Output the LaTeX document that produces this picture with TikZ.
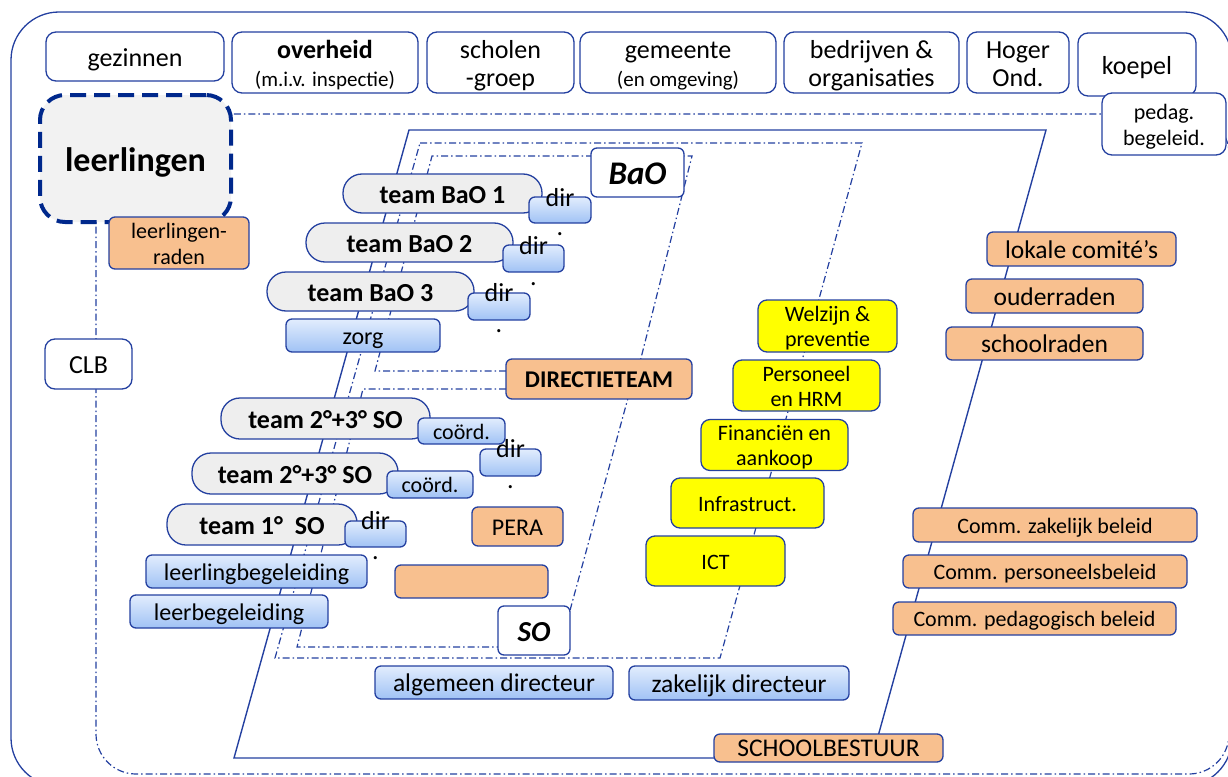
\documentclass[tikz,border=0pt]{standalone}
\usepackage{fontspec}
\setmainfont{Carlito}
\definecolor{bl}{RGB}{36,64,160}
\definecolor{dbl}{RGB}{0,40,140}
\definecolor{org}{RGB}{248,192,143}
\definecolor{gry}{RGB}{238,238,238}
\definecolor{lgry}{RGB}{242,242,242}
\definecolor{btop}{RGB}{226,237,253}
\definecolor{bbot}{RGB}{160,194,245}
\definecolor{ylw}{RGB}{255,255,0}
\newcommand\myup{\rule{0pt}{0.96em}}
\newcommand\mydn{\rule[-0.22em]{0pt}{0.22em}}
\newcommand\sbup{\rule{0pt}{0.84em}}
\newcommand\sbdn{\rule[-0.2em]{0pt}{0.2em}}
\tikzset{
 plainbase/.style={draw=bl, line width=1.3pt, rounded corners=6pt, inner sep=0pt, align=center, text=black},
 bxbase/.style={plainbase},
 wbox/.style={bxbase, fill=white, rounded corners=10pt, font=\fontsize{26}{28}\selectfont},
 obox/.style={bxbase, fill=org, font=\fontsize{24}{26}\selectfont},
 ybox/.style={bxbase, fill=ylw, rounded corners=9pt, font=\fontsize{22}{25}\selectfont},
 bbox/.style={bxbase, top color=btop, bottom color=bbot, font=\fontsize{24}{26}\selectfont},
 dirbox/.style={plainbase, top color=btop, bottom color=bbot},
 teambox/.style={bxbase, fill=gry, rounded corners=19pt, font=\bfseries\fontsize{26}{28}\selectfont},
 lblbox/.style={bxbase, fill=white, font=\bfseries\itshape\fontsize{33}{36}\selectfont},
 ddline/.style={draw=bl, line width=1.2pt, dash pattern=on 7pt off 3pt on 1.5pt off 3pt},
 sline/.style={draw=bl, line width=1.4pt},
 dirtxt/.style={anchor=base, inner sep=0pt, font=\fontsize{26}{28}\selectfont},
}
\begin{document}
\begin{tikzpicture}[x=1pt, y=-1pt]
\useasboundingbox (0,0) rectangle (1228,776);
\clip (0,0) rectangle (1228,776);
% frames
\draw[sline, line width=1.3pt, rounded corners=48pt] (11,12) rectangle (1232,786);
\draw[ddline, rounded corners=40pt] (96,114) rectangle (1229,774);
% parallelograms
\draw[sline] (409,130) -- (1046,130) -- (872,758) -- (234,758) -- cycle;
\draw[ddline] (420,143) -- (862,143) -- (720,658) -- (275,658) -- cycle;
\draw[ddline] (506,371) -- (375,371) -- (432,156) -- (692,156) -- (640,362);
\draw[ddline] (506,389) -- (363,389) -- (297,647) -- (560,647) -- (628,398);

% top row
\node[wbox, minimum width=178pt, minimum height=49pt] (gez) at (135,56.5) {\myup gezinnen\mydn};
\node[wbox, minimum width=186pt, minimum height=61pt] (ovh) at (325,62.5) {\myup\textbf{overheid}\\{\fontsize{21}{28}\selectfont (m.i.v. inspectie)\mydn}};
\node[wbox, minimum width=147pt, minimum height=61pt] (sch) at (500.5,62.5) {\myup scholen\\-groep\mydn};
\node[wbox, minimum width=196pt, minimum height=61pt] (gem) at (678,62.5) {\myup gemeente\\{\fontsize{21}{28}\selectfont (en omgeving)\mydn}};
\node[wbox, minimum width=175pt, minimum height=61pt] (bed) at (871.5,62.5) {\myup bedrijven \&\\organisaties\mydn};
\node[wbox, minimum width=102pt, minimum height=61pt] (hog) at (1018,62.5) {\myup Hoger\\Ond.\mydn};
\node[wbox, minimum width=118pt, minimum height=63pt] (koe) at (1137,64.5) {\myup koepel\mydn};
\node[wbox, minimum width=124pt, minimum height=62pt, font=\fontsize{22}{26}\selectfont] (ped) at (1164,124) {\myup pedag.\\begeleid.\mydn};

% leerlingen
\node[bxbase, draw=dbl, fill=lgry, line width=4pt, dash pattern=on 16pt off 8pt, rounded corners=25pt, minimum width=191pt, minimum height=127pt, font=\bfseries\fontsize{34}{36}\selectfont] (ll) at (135.5,158.5) {\myup leerlingen\mydn};
\node[obox, minimum width=140pt, minimum height=52pt, font=\fontsize{22}{26}\selectfont] (lr) at (179,243) {\myup leerlingen-\\raden\mydn};
\node[wbox, minimum width=87pt, minimum height=50pt] (clb) at (88.5,364) {\myup CLB\mydn};

% BaO teams
\node[lblbox, minimum width=93pt, minimum height=49pt] (bao) at (637.5,172.5) {\myup BaO\mydn};
\node[teambox, minimum width=199pt, minimum height=39pt] (t1) at (442.5,193.5) {\myup team BaO 1\mydn};
\node[dirbox, minimum width=62pt, minimum height=26pt] (d1) at (560,210) {};
\node[teambox, minimum width=207pt, minimum height=39pt] (t2) at (409.5,242.5) {\myup team BaO 2\mydn};
\node[dirbox, minimum width=61pt, minimum height=27pt] (d2) at (533.5,258.5) {};
\node[teambox, minimum width=207pt, minimum height=39pt] (t3) at (370.5,291.5) {\myup team BaO 3\mydn};
\node[dirbox, minimum width=62pt, minimum height=27pt] (d3) at (499,306.5) {};
\node[bbox, minimum width=154pt, minimum height=33pt] (zorg) at (363,335.5) {\myup zorg\mydn};
\node[dirtxt] (d1t) at (560,206) {dir};
\node[dirtxt] (d1p) at (560,235) {.};
\node[dirtxt] (d2t) at (533.5,254) {dir};
\node[dirtxt] (d2p) at (533.5,285) {.};
\node[dirtxt] (d3t) at (499,301) {dir};
\node[dirtxt] (d3p) at (499,332) {.};

\node[obox, minimum width=186pt, minimum height=40pt, font=\bfseries\fontsize{24}{26}\selectfont] (dt) at (599,379) {\myup DIRECTIETEAM\mydn};

% SO teams
\node[teambox, minimum width=209pt, minimum height=41pt] (s1) at (325.5,418.5) {\myup team 2°+3° SO\mydn};
\node[bbox, minimum width=87pt, minimum height=26pt, font=\fontsize{22}{24}\selectfont] (c1) at (461.5,431) {\myup coörd.\mydn};
\node[dirbox, minimum width=61pt, minimum height=27pt] (d4) at (510.5,462.5) {};
\node[teambox, minimum width=206pt, minimum height=41pt] (s2) at (295,473.5) {\myup team 2°+3° SO\mydn};
\node[bbox, minimum width=86pt, minimum height=27pt, font=\fontsize{22}{24}\selectfont] (c2) at (430,484.5) {\myup coörd.\mydn};
\node[teambox, minimum width=190pt, minimum height=41pt] (s3) at (262,524.5) {\myup team 1°~ SO\mydn};
\node[dirbox, minimum width=61pt, minimum height=26pt] (d5) at (375.5,534) {};
\node[dirtxt] (d4t) at (510.5,457) {dir};
\node[dirtxt] (d4p) at (510.5,488) {.};
\node[dirtxt] (d5t) at (375.5,529) {dir};
\node[dirtxt] (d5p) at (375.5,559) {.};
\node[obox, minimum width=91pt, minimum height=39pt] (pera) at (517.5,526.5) {\myup PERA\mydn};
\node[bbox, minimum width=221pt, minimum height=33pt] (lbg) at (256.5,571.5) {\myup leerlingbegeleiding\mydn};
\node[plainbase, fill=org, minimum width=153pt, minimum height=33pt] (oe) at (471.5,581.5) {};
\node[bbox, minimum width=198pt, minimum height=33pt] (leb) at (229,611.5) {\myup leerbegeleiding\mydn};
\node[lblbox, minimum width=72pt, minimum height=49pt, font=\bfseries\itshape\fontsize{29}{32}\selectfont] (so) at (534,630.5) {\myup SO\mydn};

% directors
\node[bbox, minimum width=238pt, minimum height=33pt, font=\fontsize{25.5}{27}\selectfont] (ad) at (494,682.5) {\myup algemeen directeur\mydn};
\node[bbox, minimum width=220pt, minimum height=34pt, font=\fontsize{25.5}{27}\selectfont] (zd) at (739,683) {\myup zakelijk directeur\mydn};
\node[plainbase, fill=org, minimum width=229pt, minimum height=28pt, font=\fontsize{25.5}{27}\selectfont] (sb) at (828.5,748) {\sbup SCHOOLBESTUUR\sbdn};

% yellow
\node[ybox, minimum width=139pt, minimum height=52pt] (wel) at (827.5,326) {\myup Welzijn \&\\preventie\mydn};
\node[ybox, minimum width=147pt, minimum height=51pt] (per) at (806.5,385.5) {\myup Personeel\\en HRM\mydn};
\node[ybox, minimum width=147pt, minimum height=50pt] (fin) at (774.5,445) {\myup Financiën en\\aankoop\mydn};
\node[ybox, minimum width=153pt, minimum height=50pt] (inf) at (747.5,503) {\myup Infrastruct.\mydn};
\node[ybox, minimum width=139pt, minimum height=50pt] (ict) at (715.5,561) {\myup ICT\mydn};

% right orange
\node[obox, minimum width=189pt, minimum height=34pt, font=\fontsize{25.5}{27}\selectfont] (lok) at (1081.5,249) {\myup lokale comité’s\mydn};
\node[obox, minimum width=177pt, minimum height=34pt, font=\fontsize{25.5}{27}\selectfont] (oud) at (1054.5,296) {\myup ouderraden\mydn};
\node[obox, minimum width=197pt, minimum height=33pt, font=\fontsize{25.5}{27}\selectfont] (scr) at (1044.5,343.5) {\myup schoolraden\mydn};
\node[obox, minimum width=284pt, minimum height=34pt, font=\fontsize{22}{24}\selectfont] (cz) at (1055,525) {\myup Comm. zakelijk beleid\mydn};
\node[obox, minimum width=284pt, minimum height=33pt, font=\fontsize{22}{24}\selectfont] (cp) at (1045,571.5) {\myup Comm. personeelsbeleid\mydn};
\node[obox, minimum width=283pt, minimum height=33pt, font=\fontsize{22}{24}\selectfont] (cpb) at (1034.5,618.5) {\myup Comm. pedagogisch beleid\mydn};
\end{tikzpicture}
\end{document}
